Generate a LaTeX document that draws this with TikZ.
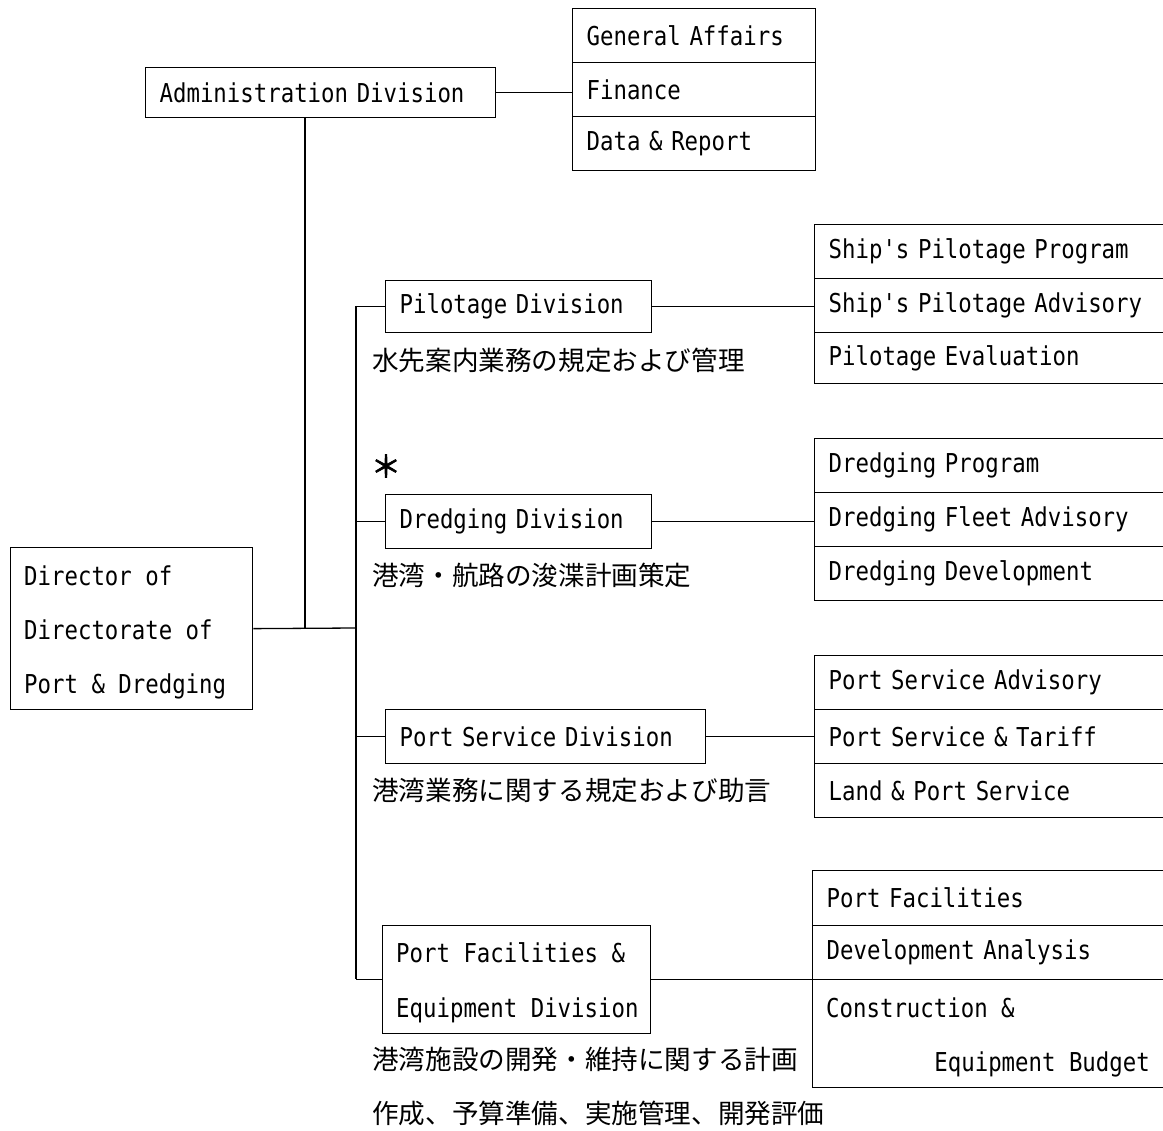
\documentclass[tikz,border=0pt]{standalone}
\usepackage{fontspec}
\newfontfamily\mono[FakeStretch=0.86]{DejaVu Sans Mono}
\newfontfamily\cjk{Noto Sans CJK JP}
\newfontfamily\cjkbold[FakeBold=2.5]{Noto Sans CJK JP}
\begin{document}
\begin{tikzpicture}[x=1pt,y=-1pt,
  ln/.style={line width=1.3pt},
  bx/.style={draw, line width=1.3pt, anchor=north west, inner xsep=14pt, inner ysep=0pt,
    align=left, font=\mono\fontsize{26}{54}\selectfont},
  tx/.style={inner sep=0pt, text height=19pt, text depth=0pt, font=\mono\fontsize{26}{54}\selectfont},
  jp/.style={inner sep=0pt, anchor=west, font=\cjk\fontsize{26.6}{26.6}\selectfont}]
\useasboundingbox (0,0) rectangle (1163,1131);
% Administration
\node[bx, text width=322pt, minimum height=50pt] (admin) at (145,67) {Administration Division};
\node[bx, text width=215pt, minimum height=54pt] (a1) at (572,8) {General Affairs};
\node[bx, text width=215pt, minimum height=54pt] (a2) at (572,62) {Finance};
\node[bx, text width=215pt, minimum height=54pt] (a3) at (572,116) {Data \& Report};
% Director
\node[bx, text width=214pt, minimum height=162pt] (dir) at (10,547) {};
\node[tx, anchor=west] (dir1) at (24,576) {Director of};
\node[tx, anchor=west] (dir2) at (24,630) {Directorate of};
\node[tx, anchor=west] (dir3) at (24,684) {Port \& Dredging};
% Divisions
\node[bx, text width=238pt, minimum height=52pt] (pil) at (385,280) {Pilotage Division};
\node[bx, text width=238pt, minimum height=54pt] (dre) at (385,494) {Dredging Division};
\node[bx, text width=292pt, minimum height=54pt] (psv) at (385,709) {Port Service Division};
\node[bx, text width=240pt, minimum height=108pt] (pfe) at (382,925) {};
\node[tx, anchor=west] (pfe1) at (396,953) {Port Facilities \&};
\node[tx, anchor=west] (pfe2) at (396,1008) {Equipment Division};
% Pilotage sections
\node[bx, text width=332pt, minimum height=54pt] (p1) at (814,224) {Ship's Pilotage Program};
\node[bx, text width=332pt, minimum height=54pt] (p2) at (814,278) {Ship's Pilotage Advisory};
\node[bx, text width=332pt, minimum height=51pt] (p3) at (814,332) {Pilotage Evaluation};
% Dredging sections
\node[bx, text width=332pt, minimum height=54pt] (d1) at (814,438) {Dredging Program};
\node[bx, text width=332pt, minimum height=54pt] (d2) at (814,492) {Dredging Fleet Advisory};
\node[bx, text width=332pt, minimum height=54pt] (d3) at (814,546) {Dredging Development};
% Port service sections
\node[bx, text width=332pt, minimum height=54pt] (s1) at (814,655) {Port Service Advisory};
\node[bx, text width=332pt, minimum height=54pt] (s2) at (814,709) {Port Service \& Tariff};
\node[bx, text width=332pt, minimum height=54pt] (s3) at (814,763) {Land \& Port Service};
% Port facilities sections
\node[bx, text width=334pt, minimum height=55pt] (f1) at (812,870) {Port Facilities};
\node[bx, text width=334pt, minimum height=54pt] (f2) at (812,925) {Development Analysis};
\node[bx, text width=334pt, minimum height=108pt] (f3) at (812,979) {};
\node[tx, anchor=west] (f3a) at (826,1008) {Construction \&};
\node[tx, anchor=east] (f3b) at (1150,1062) {Equipment Budget};
% Japanese notes
\node[jp] (jp1) at (372,360) {水先案内業務の規定および管理};
\node[jp] (jp2) at (372,575) {港湾・航路の浚渫計画策定};
\node[jp] (jp3) at (372,790) {港湾業務に関する規定および助言};
\node[jp] (jp4) at (372,1059) {港湾施設の開発・維持に関する計画};
\node[jp] (jp5) at (372,1113) {作成、予算準備、実施管理、開発評価};
\node[inner sep=0pt, font=\cjkbold\fontsize{30}{30}\selectfont] (ast) at (386,466) {＊};
% connectors
\coordinate (ttop) at (356,306);
\coordinate (tbot) at (356,979);
\coordinate (jd) at (356,628);
\coordinate (ja) at (305,628);
\draw[ln] (admin.east) -- (admin.east -| a2.west);
\draw[ln] (admin.south -| ja) -- (ja);
\draw[ln] (dir.east) -- (jd);
\draw[ln] (ttop) -- (tbot);
\draw[ln] (pil.west -| ttop) -- (pil.west);
\draw[ln] (dre.west -| ttop) -- (dre.west);
\draw[ln] (psv.west -| ttop) -- (psv.west);
\draw[ln] (pfe.west -| tbot) -- (pfe.west);
\draw[ln] (pil.east) -- (pil.east -| p2.west);
\draw[ln] (dre.east) -- (dre.east -| d2.west);
\draw[ln] (psv.east) -- (psv.east -| s2.west);
\draw[ln] (pfe.east) -- (pfe.east -| f2.west);
\end{tikzpicture}
\end{document}
